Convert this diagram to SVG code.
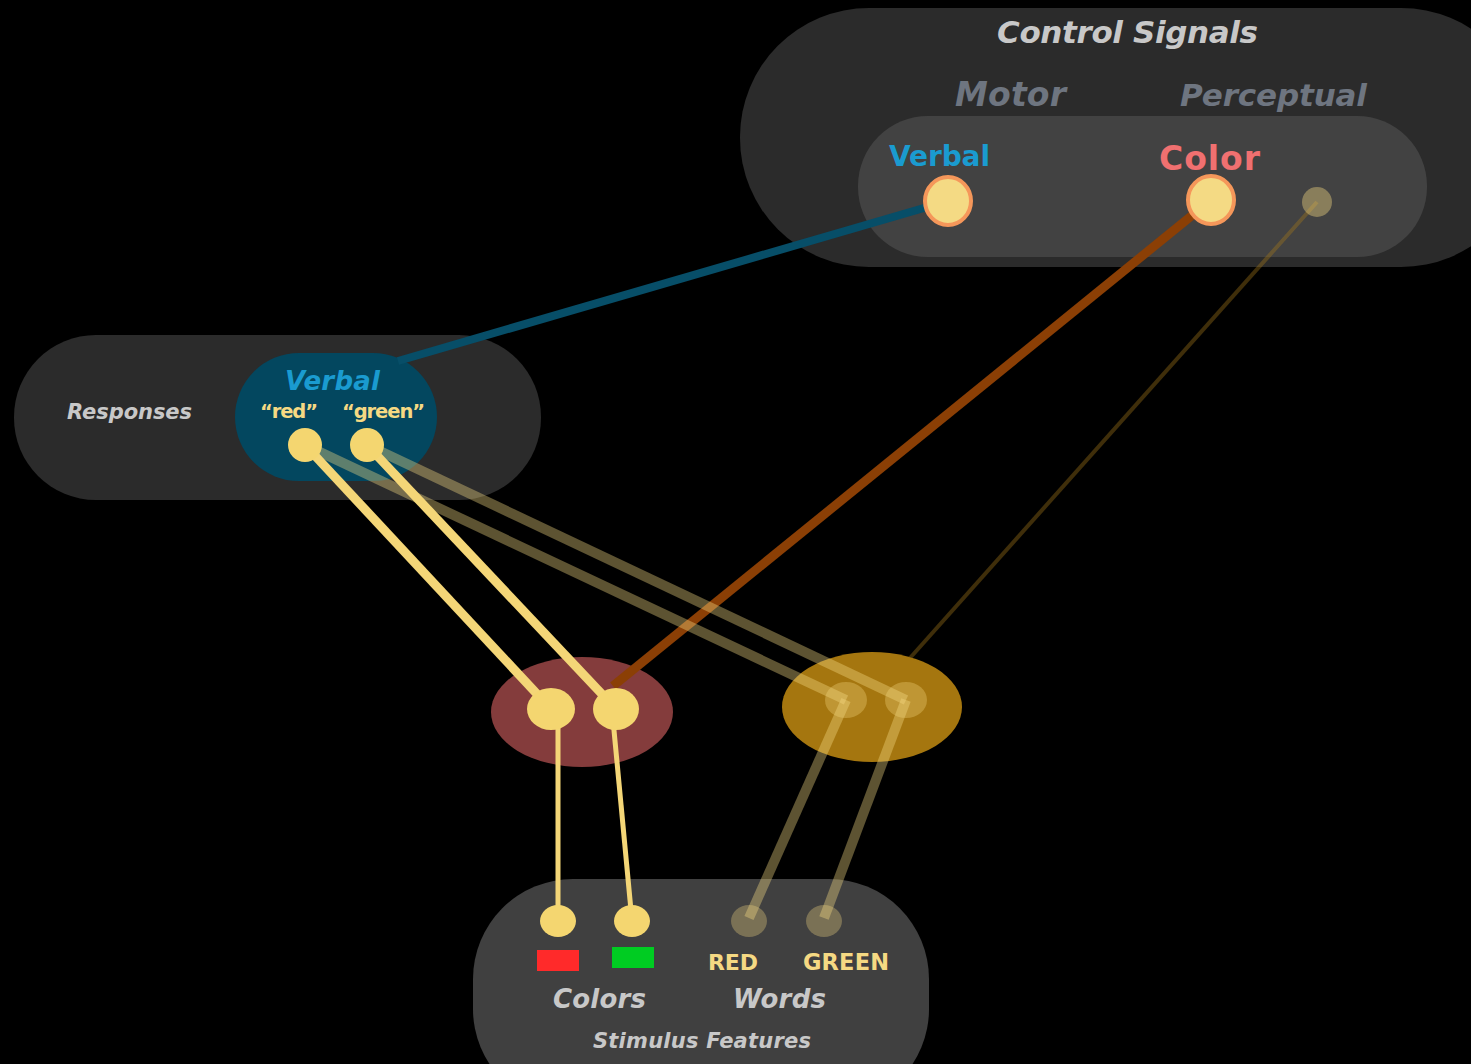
<svg xmlns="http://www.w3.org/2000/svg" width="1471" height="1064" viewBox="0 0 1471 1064">
  <style>
    text { font-family: "DejaVu Sans", "Open Sans", "Liberation Sans", sans-serif; font-weight: bold; }
    .it { font-style: italic; }
    .title { fill: #c8c8c8; }
    .sub { fill: #6e7580; }
    .quote { fill: #f5d983; }
    .node { fill: #f4d670; }
    .ghost { fill: #f5d983; fill-opacity: 0.32; }
    .ctl { fill: #f4da84; stroke: #f5975a; stroke-width: 4; }
    .solid { stroke: #f4d677; fill: none; }
    .faint { stroke: #f5d983; stroke-opacity: 0.38; fill: none; stroke-width: 10; }
  </style>
  <rect width="1471" height="1064" fill="#000"/>

  <!-- container: control signals -->
  <g id="control-signals">
    <rect x="740" y="8" width="790" height="259" rx="129" fill="#2b2b2b"/>
    <rect x="858" y="116" width="569" height="141" rx="70" fill="#424242"/>
    <text class="it title" x="997" y="43" font-size="31" textLength="261">Control Signals</text>
    <text class="it sub" x="955" y="106" font-size="33" textLength="111">Motor</text>
    <text class="it sub" x="1180" y="106" font-size="31" textLength="187">Perceptual</text>
    <text x="889" y="166" font-size="28" fill="#1a9bd0" textLength="101">Verbal</text>
    <text x="1159" y="170" font-size="33" fill="#f07070" textLength="101">Color</text>
  </g>

  <!-- container: responses -->
  <g id="responses">
    <rect x="14" y="335" width="527" height="165" rx="82" fill="#2b2b2b"/>
    <text class="it title" x="67" y="419" font-size="21" textLength="125">Responses</text>
  </g>

  <g id="verbal-responses">
    <rect x="235" y="353" width="202" height="128" rx="64" fill="#03475f"/>
  </g>

  <!-- connectors that end at container edges -->
  <g id="edge-links">
    <line x1="948" y1="201" x2="398" y2="361" stroke="#074e68" stroke-width="8"/>
    <line x1="1317" y1="202" x2="910" y2="658" stroke="#a67a1a" stroke-opacity="0.38" stroke-width="4"/>
  </g>

  <!-- container: stimulus features -->
  <g id="stimulus-features">
    <rect x="473" y="879" width="456" height="230" rx="100" fill="#404040"/>
    <rect x="537" y="950" width="42" height="21" fill="#ff2a2a"/>
    <rect x="612" y="947" width="42" height="21" fill="#00cc22"/>
    <text class="quote" x="708" y="970" font-size="22" textLength="50">RED</text>
    <text class="quote" x="803" y="970" font-size="22.5" textLength="86">GREEN</text>
    <text class="it title" x="553" y="1008" font-size="26" textLength="93">Colors</text>
    <text class="it title" x="733" y="1008" font-size="26" textLength="93">Words</text>
    <text class="it title" x="593" y="1048" font-size="21" textLength="218">Stimulus Features</text>
  </g>

  <!-- intermediate units -->
  <g id="color-unit">
    <ellipse cx="582" cy="712" rx="91" ry="55" fill="#843c3c"/>
  </g>
  <g id="word-unit">
    <ellipse cx="872" cy="707" rx="90" ry="55" fill="#a5760f"/>
  </g>

  <!-- connectors -->
  <g id="connectors">
    <line x1="1211" y1="200" x2="613" y2="686" stroke="#8b3f05" stroke-width="9"/>
    <line class="faint" x1="305" y1="445" x2="846" y2="700"/>
    <line class="faint" x1="367" y1="445" x2="906" y2="700"/>
    <line class="solid" x1="305" y1="445" x2="551" y2="709" stroke-width="9"/>
    <line class="solid" x1="367" y1="445" x2="616" y2="709" stroke-width="9"/>
    <line class="solid" x1="558" y1="709" x2="558" y2="921" stroke-width="5"/>
    <line class="solid" x1="612" y1="709" x2="632" y2="921" stroke-width="5"/>
    <line class="faint" x1="846" y1="700" x2="749" y2="918"/>
    <line class="faint" x1="906" y1="700" x2="824" y2="918"/>
  </g>

  <!-- control units -->
  <g id="verbal-control">
    <ellipse class="ctl" cx="948" cy="201" rx="23" ry="24"/>
  </g>
  <g id="color-control">
    <ellipse class="ctl" cx="1211" cy="200" rx="23" ry="24"/>
  </g>
  <g id="word-control">
    <circle cx="1317" cy="202" r="15" fill="#f5d983" fill-opacity="0.4"/>
  </g>

  <!-- response units -->
  <g id="resp-red">
    <text class="quote" x="260" y="418" font-size="19.5" textLength="58">“red”</text>
    <circle class="node" cx="305" cy="445" r="17"/>
  </g>
  <g id="resp-green">
    <text class="quote" x="342" y="418" font-size="19.5" textLength="83">“green”</text>
    <circle class="node" cx="367" cy="445" r="17"/>
  </g>
  <text class="it" x="285" y="390" font-size="26" fill="#1a9bd0" textLength="95">Verbal</text>

  <!-- hidden units -->
  <g id="hidden-red">
    <ellipse class="node" cx="551" cy="709" rx="24" ry="21"/>
  </g>
  <g id="hidden-green">
    <ellipse class="node" cx="616" cy="709" rx="23" ry="21"/>
  </g>
  <g id="hidden-word-red">
    <ellipse class="ghost" cx="846" cy="700" rx="21" ry="18"/>
  </g>
  <g id="hidden-word-green">
    <ellipse class="ghost" cx="906" cy="700" rx="21" ry="18"/>
  </g>

  <!-- input units -->
  <g id="in-color-red">
    <ellipse class="node" cx="558" cy="921" rx="18" ry="16"/>
  </g>
  <g id="in-color-green">
    <ellipse class="node" cx="632" cy="921" rx="18" ry="16"/>
  </g>
  <g id="in-word-red">
    <ellipse class="ghost" cx="749" cy="921" rx="18" ry="16"/>
  </g>
  <g id="in-word-green">
    <ellipse class="ghost" cx="824" cy="921" rx="18" ry="16"/>
  </g>
</svg>
